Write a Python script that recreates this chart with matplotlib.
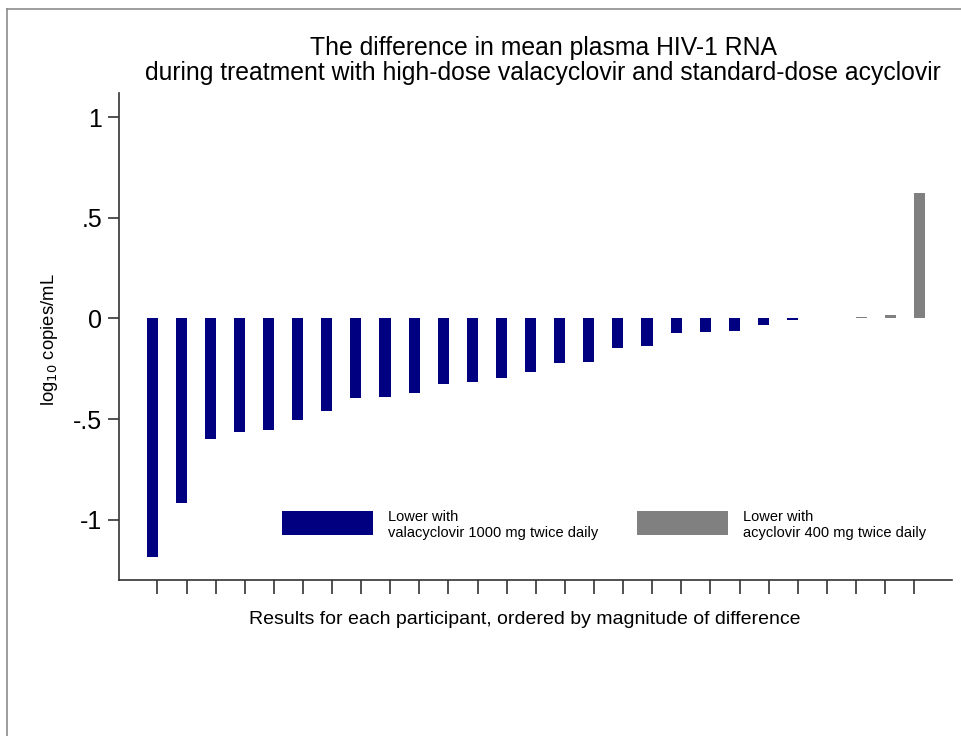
import matplotlib
matplotlib.use("Agg")
import matplotlib.pyplot as plt
import numpy as np
from matplotlib.patches import Rectangle
from matplotlib.lines import Line2D

plt.rcParams['font.family'] = ['Liberation Sans', 'DejaVu Sans']

# Difference per participant (log10 copies/mL), ordered by magnitude
valacyclovir_lower = [-1.186, -0.915, -0.600, -0.564, -0.554, -0.507, -0.459,
                      -0.398, -0.391, -0.373, -0.327, -0.315, -0.295, -0.265,
                      -0.222, -0.215, -0.146, -0.138, -0.071, -0.066, -0.063,
                      -0.031, -0.008, 0.0, 0.0, 0.0, 0.0]
acyclovir_lower = [0.0] * 24 + [0.007, 0.018, 0.624]

yticks = [-1, -0.5, 0, 0.5, 1]
yticklabels = ["-1", "-.5", "0", ".5", "1"]

blue = "#000080"
gray = "#808080"

fig = plt.figure(figsize=(9.61, 7.36), dpi=100)
ax = fig.add_axes([119/961, 1-580/736, (952-119)/961, (580-93)/736])

n = len(valacyclovir_lower)
x = np.arange(n)
bw = 0.38
ax.bar(x - 0.18, valacyclovir_lower, width=bw, color=blue, linewidth=0)
ax.bar(x + 0.18, acyclovir_lower, width=bw, color=gray, linewidth=0)

ax.set_xlim(-1.32, 27.3)
ax.set_ylim(-1.30, 1.12)
ax.set_xticks(x)
ax.set_xticklabels([])
ax.set_yticks(yticks)
ax.set_yticklabels(yticklabels, fontsize=18)
ax.tick_params(axis='x', length=10, width=1.2, color="#333333", direction='out')
ax.tick_params(axis='y', length=8, width=1.2, color="#333333", direction='out', pad=4)
for s in ['top', 'right']:
    ax.spines[s].set_visible(False)
for s in ['left', 'bottom']:
    ax.spines[s].set_color("#333333")
    ax.spines[s].set_linewidth(1.2)

ax.set_ylabel("log$_{10}$ copies/mL", fontsize=13.3)
ax.yaxis.set_label_coords(-(119-60)/833, (580-340)/487)

fig.text(543/961, 1-48/736, "The difference in mean plasma HIV-1 RNA",
         ha='center', va='center', fontsize=17.8)
fig.text(543/961, 1-73/736, "during treatment with high-dose valacyclovir and standard-dose acyclovir",
         ha='center', va='center', fontsize=17.8)
fig.text(525/961, 1-620/736, "Results for each participant, ordered by magnitude of difference",
         ha='center', va='center', fontsize=14)

# legend
fig.patches.append(Rectangle((282/961, 1-535/736), 91/961, 24/736,
                             transform=fig.transFigure, color=blue, lw=0))
fig.patches.append(Rectangle((637/961, 1-535/736), 91/961, 24/736,
                             transform=fig.transFigure, color=gray, lw=0))
fig.text(388/961, 1-525/736, "Lower with\nvalacyclovir 1000 mg twice daily",
         ha='left', va='center', fontsize=10.5, linespacing=1.25)
fig.text(743/961, 1-525/736, "Lower with\nacyclovir 400 mg twice daily",
         ha='left', va='center', fontsize=10.5, linespacing=1.25)

# outer frame (top and left)
fig.lines.append(Line2D([7/961, 1], [1-9/736, 1-9/736], transform=fig.transFigure,
                        color="#8c8c8c", lw=1.2))
fig.lines.append(Line2D([7/961, 7/961], [0, 1-9/736], transform=fig.transFigure,
                        color="#8c8c8c", lw=1.2))

fig.savefig("out.png", dpi=100)
